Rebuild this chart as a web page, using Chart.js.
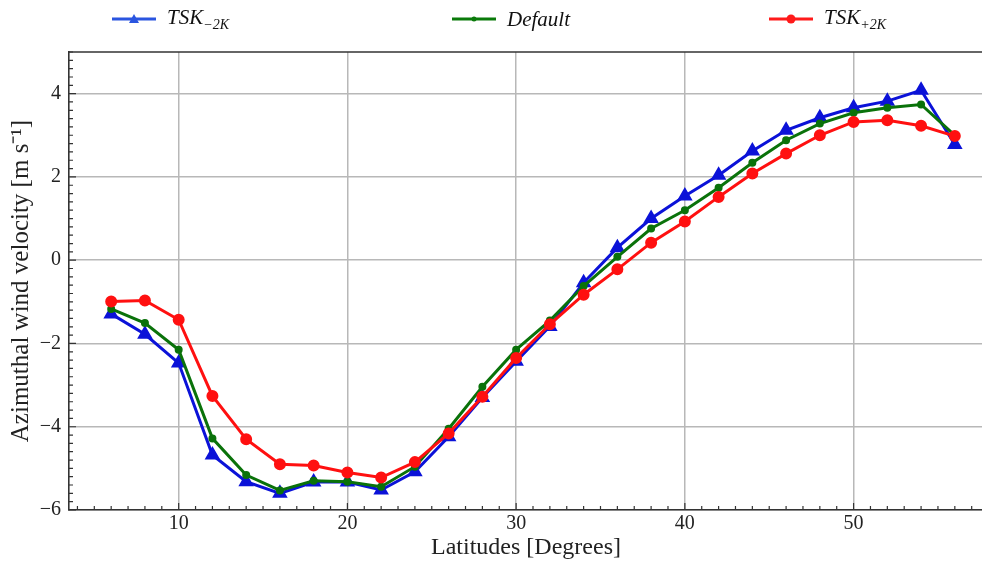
<!DOCTYPE html>
<html>
<head>
<meta charset="utf-8">
<script src="https://cdn.jsdelivr.net/npm/chart.js@4.4.1/dist/chart.umd.min.js"></script>
<style>
  html, body { margin: 0; padding: 0; background: #fff; }
  #wrap { position: relative; width: 982px; height: 562px; overflow: hidden; }
  #wind-chart { position: absolute; left: 0; top: 0; }
  .legend { position: absolute; top: 3px; left: 0; width: 982px; height: 32px;
            font-family: "Liberation Serif", serif; font-style: italic; font-size: 21px; color: #111; }
  .legend .item { position: absolute; top: 0; display: flex; align-items: center; height: 32px; }
  .legend svg { margin-right: 11px; }
  .legend sub { font-size: 14px; vertical-align: -5px; }
</style>
</head>
<body>
<div id="wrap">
  <canvas id="wind-chart" width="992" height="562"></canvas>
  <div class="legend">
    <div class="item" style="left:112px">
      <svg width="44" height="14"><line x1="0" y1="7" x2="44" y2="7" stroke="#2a55e0" stroke-width="3"/><polygon points="22,2 27,11 17,11" fill="#2a55e0"/></svg>
      <span>TSK<sub>−2K</sub></span>
    </div>
    <div class="item" style="left:452px">
      <svg width="44" height="14"><line x1="0" y1="7" x2="44" y2="7" stroke="#0a7a0a" stroke-width="3"/><circle cx="22" cy="7" r="2.5" fill="#0a7a0a"/></svg>
      <span>Default</span>
    </div>
    <div class="item" style="left:769px">
      <svg width="44" height="14"><line x1="0" y1="7" x2="44" y2="7" stroke="#ff1a1a" stroke-width="3"/><circle cx="22" cy="7" r="4.5" fill="#ff1a1a"/></svg>
      <span>TSK<sub>+2K</sub></span>
    </div>
  </div>
</div>
<script>
// latitudes (degrees)
const latitudes = [6, 8, 10, 12, 14, 16, 18, 20, 22, 24, 26, 28, 30, 32, 34, 36, 38, 40, 42, 44, 46, 48, 50, 52, 54, 56]

// azimuthal wind velocity [m s-1]
const tskMinus2K = [-1.29, -1.78, -2.47, -4.68, -5.32, -5.60, -5.33, -5.33, -5.52, -5.08, -4.24, -3.30, -2.43, -1.59, -0.54,
                    0.30, 1.00, 1.54, 2.04, 2.62, 3.12, 3.42, 3.66, 3.82, 4.08, 2.78]
const defaultRun = [-1.17, -1.51, -2.15, -4.28, -5.16, -5.53, -5.30, -5.32, -5.44, -4.96, -4.05, -3.04, -2.15, -1.45, -0.62,
                    0.08, 0.76, 1.20, 1.74, 2.34, 2.88, 3.28, 3.54, 3.66, 3.74, 3.00]
const tskPlus2K = [-0.99, -0.97, -1.43, -3.26, -4.30, -4.90, -4.93, -5.10, -5.22, -4.85, -4.16, -3.28, -2.35, -1.54, -0.83,
                   -0.22, 0.42, 0.93, 1.52, 2.08, 2.56, 3.00, 3.32, 3.36, 3.23, 2.98]

const xTicks = [10, 20, 30, 40, 50]
const yTicks = [-6, -4, -2, 0, 2, 4]

const serif = '"Liberation Serif", serif'

function toPoints(values) {
  return latitudes.map((lat, i) => ({ x: lat, y: values[i] }))
}

// inward minor/major ticks and the top spine, like the original figure
const spinePlugin = {
  id: 'spines',
  afterDraw(chart) {
    const ctx = chart.ctx
    const area = chart.chartArea
    const xs = chart.scales.x
    const ys = chart.scales.y
    ctx.save()
    ctx.strokeStyle = '#333'
    ctx.lineWidth = 1.2
    ctx.beginPath()
    for (let v = 4; v <= 57; v++) {
      const px = xs.getPixelForValue(v)
      const len = v % 10 === 0 ? 7 : 4
      ctx.moveTo(px, area.bottom)
      ctx.lineTo(px, area.bottom - len)
    }
    for (let k = -30; k <= 25; k++) {
      const v = k / 5
      const py = ys.getPixelForValue(v)
      const len = k % 10 === 0 ? 7 : 4
      ctx.moveTo(area.left, py)
      ctx.lineTo(area.left + len, py)
    }
    ctx.stroke()
    ctx.lineWidth = 1.6
    ctx.beginPath()
    ctx.moveTo(area.left, area.top)
    ctx.lineTo(area.right + 2, area.top)
    ctx.stroke()
    ctx.restore()
  }
}

new Chart(document.getElementById('wind-chart'), {
  type: 'line',
  data: {
    datasets: [
      {
        label: 'TSK-2K',
        data: toPoints(tskMinus2K),
        borderColor: '#0b12d8',
        backgroundColor: '#0b12d8',
        borderWidth: 3,
        pointStyle: 'triangle',
        pointRadius: 6,
        order: 3
      },
      {
        label: 'Default',
        data: toPoints(defaultRun),
        borderColor: '#0a720a',
        backgroundColor: '#0a720a',
        borderWidth: 3,
        pointStyle: 'circle',
        pointRadius: 2.5,
        order: 2
      },
      {
        label: 'TSK+2K',
        data: toPoints(tskPlus2K),
        borderColor: '#ff1010',
        backgroundColor: '#ff1010',
        borderWidth: 3,
        pointStyle: 'circle',
        pointRadius: 4.5,
        order: 1
      }
    ]
  },
  options: {
    responsive: false,
    animation: false,
    layout: { padding: { top: 52, left: 0, right: 0, bottom: 0 } },
    plugins: { legend: { display: false }, tooltip: { enabled: false } },
    elements: { line: { tension: 0 } },
    scales: {
      x: {
        type: 'linear',
        min: 3.5,
        max: 57.67,
        afterBuildTicks: axis => { axis.ticks = xTicks.map(v => ({ value: v })) },
        afterFit: axis => { axis.height = 52 },
        grid: { color: '#b8b8b8', lineWidth: 1.5, drawTicks: false },
        border: { color: '#333', width: 1.6 },
        ticks: { color: '#222', padding: 2, maxRotation: 0, font: { family: serif, size: 20 } },
        title: { display: true, text: 'Latitudes [Degrees]', color: '#222', padding: { top: 3, bottom: 0 }, font: { family: serif, size: 24 } }
      },
      y: {
        min: -6,
        max: 5,
        afterBuildTicks: axis => { axis.ticks = yTicks.map(v => ({ value: v })) },
        afterFit: axis => { axis.width = 69 },
        grid: { color: '#b8b8b8', lineWidth: 1.5, drawTicks: false },
        border: { color: '#333', width: 1.6 },
        ticks: {
          color: '#222', padding: 8, font: { family: serif, size: 20 },
          callback: v => v < 0 ? '\u2212' + Math.abs(v) : String(v)
        },
        title: { display: true, text: 'Azimuthal wind velocity [m s\u207B\u00B9]', color: '#222', padding: { top: 6, bottom: 0 }, font: { family: serif, size: 25 } }
      }
    }
  },
  plugins: [spinePlugin]
})
</script>
</body>
</html>
